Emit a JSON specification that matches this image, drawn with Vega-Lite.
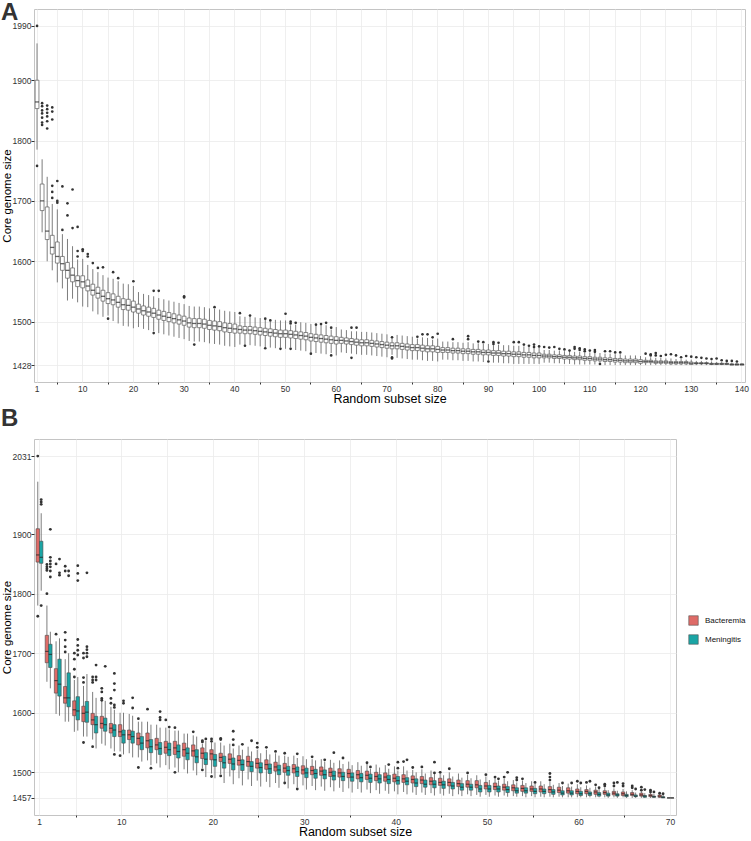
{
"$schema":"https://vega.github.io/schema/vega-lite/v6.json",
"background":"white",
"padding":0,
"spacing":0,
"config":{
 "font":"Liberation Sans",
 "view":{"stroke":"#c4c4c4","strokeWidth":1},
 "axis":{"domain":false,"gridColor":"#ebebeb","gridWidth":0.8,"tickColor":"#333","tickSize":3,"labelColor":"#333","labelFontSize":8.5,"titleFontSize":12.5,"titleFontWeight":"normal","titleColor":"#000"},
 "axisY":{"titleFontSize":11.5},
 "title":{"fontSize":24,"fontWeight":"bold","anchor":"start","frame":"bounds","color":"#333","offset":7}
},
"datasets":{
"boxA":[
{"n":1,"lo":1785,"q1":1853,"m":1864,"q3":1900,"hi":1961},
{"n":2,"lo":1648,"q1":1684,"m":1700,"q3":1728,"hi":1769},
{"n":3,"lo":1600,"q1":1636,"m":1650,"q3":1690,"hi":1740},
{"n":4,"lo":1585,"q1":1612,"m":1623,"q3":1643,"hi":1695},
{"n":5,"lo":1565,"q1":1597,"m":1608,"q3":1632,"hi":1686},
{"n":6,"lo":1555,"q1":1585,"m":1596,"q3":1608,"hi":1645},
{"n":7,"lo":1535,"q1":1572,"m":1585,"q3":1598,"hi":1637},
{"n":8,"lo":1538,"q1":1566,"m":1577,"q3":1589,"hi":1625},
{"n":9,"lo":1532,"q1":1558,"m":1568,"q3":1576,"hi":1603},
{"n":10,"lo":1525,"q1":1556,"m":1566,"q3":1576,"hi":1604},
{"n":11,"lo":1524,"q1":1551,"m":1559,"q3":1569,"hi":1594},
{"n":12,"lo":1517,"q1":1544,"m":1552,"q3":1562,"hi":1587},
{"n":13,"lo":1512,"q1":1539,"m":1547,"q3":1557,"hi":1582},
{"n":14,"lo":1508,"q1":1534,"m":1542,"q3":1552,"hi":1577},
{"n":15,"lo":1510,"q1":1530,"m":1538,"q3":1548,"hi":1573},
{"n":16,"lo":1501,"q1":1528,"m":1536,"q3":1546,"hi":1571},
{"n":17,"lo":1497,"q1":1524,"m":1532,"q3":1542,"hi":1567},
{"n":18,"lo":1493,"q1":1520,"m":1528,"q3":1538,"hi":1563},
{"n":19,"lo":1492,"q1":1519,"m":1527,"q3":1537,"hi":1562},
{"n":20,"lo":1489,"q1":1516,"m":1524,"q3":1534,"hi":1559},
{"n":21,"lo":1491,"q1":1514,"m":1521,"q3":1529,"hi":1549},
{"n":22,"lo":1488,"q1":1511,"m":1518,"q3":1526,"hi":1546},
{"n":23,"lo":1486,"q1":1509,"m":1516,"q3":1524,"hi":1544},
{"n":24,"lo":1484,"q1":1507,"m":1514,"q3":1522,"hi":1542},
{"n":25,"lo":1481,"q1":1504,"m":1511,"q3":1519,"hi":1539},
{"n":26,"lo":1479,"q1":1502,"m":1509,"q3":1517,"hi":1537},
{"n":27,"lo":1477,"q1":1500,"m":1507,"q3":1515,"hi":1535},
{"n":28,"lo":1475,"q1":1498,"m":1505,"q3":1513,"hi":1533},
{"n":29,"lo":1473,"q1":1496,"m":1503,"q3":1511,"hi":1531},
{"n":30,"lo":1471,"q1":1494,"m":1501,"q3":1509,"hi":1529},
{"n":31,"lo":1468,"q1":1491,"m":1498,"q3":1506,"hi":1526},
{"n":32,"lo":1467,"q1":1490,"m":1497,"q3":1505,"hi":1525},
{"n":33,"lo":1467,"q1":1490,"m":1497,"q3":1505,"hi":1525},
{"n":34,"lo":1466,"q1":1489,"m":1496,"q3":1504,"hi":1524},
{"n":35,"lo":1464,"q1":1487,"m":1494,"q3":1502,"hi":1522},
{"n":36,"lo":1463,"q1":1486,"m":1493,"q3":1501,"hi":1521},
{"n":37,"lo":1462,"q1":1485,"m":1492,"q3":1500,"hi":1520},
{"n":38,"lo":1460,"q1":1483,"m":1490,"q3":1498,"hi":1518},
{"n":39,"lo":1459,"q1":1482,"m":1489,"q3":1497,"hi":1517},
{"n":40,"lo":1458,"q1":1481,"m":1488,"q3":1496,"hi":1516},
{"n":41,"lo":1462,"q1":1481,"m":1487,"q3":1493,"hi":1509},
{"n":42,"lo":1461,"q1":1480,"m":1486,"q3":1492,"hi":1508},
{"n":43,"lo":1461,"q1":1480,"m":1486,"q3":1492,"hi":1508},
{"n":44,"lo":1460,"q1":1479,"m":1485,"q3":1491,"hi":1507},
{"n":45,"lo":1459,"q1":1478,"m":1484,"q3":1490,"hi":1506},
{"n":46,"lo":1458,"q1":1477,"m":1483,"q3":1489,"hi":1504},
{"n":47,"lo":1457,"q1":1476,"m":1482,"q3":1488,"hi":1500},
{"n":48,"lo":1456,"q1":1475,"m":1481,"q3":1487,"hi":1503},
{"n":49,"lo":1457,"q1":1474,"m":1480,"q3":1486,"hi":1502},
{"n":50,"lo":1455,"q1":1474,"m":1480,"q3":1486,"hi":1502},
{"n":51,"lo":1457,"q1":1473,"m":1479,"q3":1485,"hi":1494},
{"n":52,"lo":1453,"q1":1472,"m":1478,"q3":1484,"hi":1495},
{"n":53,"lo":1452,"q1":1471,"m":1477,"q3":1483,"hi":1499},
{"n":54,"lo":1451,"q1":1470,"m":1476,"q3":1482,"hi":1498},
{"n":55,"lo":1449,"q1":1468,"m":1474,"q3":1480,"hi":1496},
{"n":56,"lo":1448,"q1":1467,"m":1473,"q3":1479,"hi":1493},
{"n":57,"lo":1447,"q1":1466,"m":1472,"q3":1478,"hi":1494},
{"n":58,"lo":1446,"q1":1465,"m":1471,"q3":1477,"hi":1494},
{"n":59,"lo":1448,"q1":1464,"m":1470,"q3":1476,"hi":1487},
{"n":60,"lo":1444,"q1":1463,"m":1469,"q3":1475,"hi":1491},
{"n":61,"lo":1449,"q1":1464,"m":1469,"q3":1474,"hi":1487},
{"n":62,"lo":1448,"q1":1463,"m":1468,"q3":1473,"hi":1486},
{"n":63,"lo":1447,"q1":1462,"m":1467,"q3":1472,"hi":1484},
{"n":64,"lo":1446,"q1":1461,"m":1466,"q3":1471,"hi":1484},
{"n":65,"lo":1445,"q1":1460,"m":1465,"q3":1470,"hi":1483},
{"n":66,"lo":1445,"q1":1460,"m":1465,"q3":1470,"hi":1483},
{"n":67,"lo":1444,"q1":1459,"m":1464,"q3":1469,"hi":1482},
{"n":68,"lo":1443,"q1":1458,"m":1463,"q3":1468,"hi":1481},
{"n":69,"lo":1442,"q1":1457,"m":1462,"q3":1467,"hi":1480},
{"n":70,"lo":1441,"q1":1456,"m":1461,"q3":1466,"hi":1479},
{"n":71,"lo":1445,"q1":1455,"m":1460,"q3":1465,"hi":1472},
{"n":72,"lo":1440,"q1":1455,"m":1460,"q3":1465,"hi":1478},
{"n":73,"lo":1439,"q1":1454,"m":1459,"q3":1464,"hi":1477},
{"n":74,"lo":1438,"q1":1453,"m":1458,"q3":1463,"hi":1476},
{"n":75,"lo":1437,"q1":1452,"m":1457,"q3":1462,"hi":1475},
{"n":76,"lo":1437,"q1":1452,"m":1457,"q3":1462,"hi":1472},
{"n":77,"lo":1436,"q1":1451,"m":1456,"q3":1461,"hi":1474},
{"n":78,"lo":1435,"q1":1450,"m":1455,"q3":1460,"hi":1473},
{"n":79,"lo":1435,"q1":1450,"m":1455,"q3":1460,"hi":1470},
{"n":80,"lo":1434,"q1":1449,"m":1454,"q3":1459,"hi":1472},
{"n":81,"lo":1437,"q1":1449,"m":1453,"q3":1457,"hi":1467},
{"n":82,"lo":1437,"q1":1449,"m":1453,"q3":1457,"hi":1467},
{"n":83,"lo":1436,"q1":1448,"m":1452,"q3":1456,"hi":1466},
{"n":84,"lo":1436,"q1":1448,"m":1452,"q3":1456,"hi":1466},
{"n":85,"lo":1435,"q1":1447,"m":1451,"q3":1455,"hi":1465},
{"n":86,"lo":1435,"q1":1447,"m":1451,"q3":1455,"hi":1466},
{"n":87,"lo":1434,"q1":1446,"m":1450,"q3":1454,"hi":1464},
{"n":88,"lo":1434,"q1":1446,"m":1450,"q3":1454,"hi":1464},
{"n":89,"lo":1433,"q1":1445,"m":1449,"q3":1453,"hi":1463},
{"n":90,"lo":1436,"q1":1445,"m":1449,"q3":1453,"hi":1463},
{"n":91,"lo":1432,"q1":1444,"m":1448,"q3":1452,"hi":1461},
{"n":92,"lo":1432,"q1":1444,"m":1448,"q3":1452,"hi":1462},
{"n":93,"lo":1431,"q1":1443,"m":1447,"q3":1451,"hi":1461},
{"n":94,"lo":1431,"q1":1443,"m":1447,"q3":1451,"hi":1461},
{"n":95,"lo":1430,"q1":1442,"m":1446,"q3":1450,"hi":1460},
{"n":96,"lo":1430,"q1":1442,"m":1446,"q3":1450,"hi":1460},
{"n":97,"lo":1430,"q1":1441,"m":1445,"q3":1449,"hi":1459},
{"n":98,"lo":1430,"q1":1441,"m":1445,"q3":1449,"hi":1458},
{"n":99,"lo":1430,"q1":1440,"m":1444,"q3":1448,"hi":1457},
{"n":100,"lo":1430,"q1":1440,"m":1444,"q3":1448,"hi":1457},
{"n":101,"lo":1432,"q1":1440,"m":1443,"q3":1446,"hi":1453},
{"n":102,"lo":1432,"q1":1440,"m":1443,"q3":1446,"hi":1453},
{"n":103,"lo":1431,"q1":1439,"m":1442,"q3":1445,"hi":1452},
{"n":104,"lo":1431,"q1":1439,"m":1442,"q3":1445,"hi":1452},
{"n":105,"lo":1430,"q1":1438,"m":1441,"q3":1444,"hi":1451},
{"n":106,"lo":1430,"q1":1438,"m":1441,"q3":1444,"hi":1450},
{"n":107,"lo":1429,"q1":1437,"m":1440,"q3":1443,"hi":1450},
{"n":108,"lo":1429,"q1":1437,"m":1440,"q3":1443,"hi":1450},
{"n":109,"lo":1429,"q1":1436,"m":1439,"q3":1442,"hi":1449},
{"n":110,"lo":1429,"q1":1436,"m":1439,"q3":1442,"hi":1449},
{"n":111,"lo":1429,"q1":1435,"m":1438,"q3":1441,"hi":1448},
{"n":112,"lo":1433,"q1":1435,"m":1438,"q3":1441,"hi":1448},
{"n":113,"lo":1428,"q1":1434,"m":1437,"q3":1440,"hi":1447},
{"n":114,"lo":1428,"q1":1434,"m":1437,"q3":1440,"hi":1447},
{"n":115,"lo":1428,"q1":1433,"m":1436,"q3":1439,"hi":1446},
{"n":116,"lo":1428,"q1":1433,"m":1436,"q3":1439,"hi":1446},
{"n":117,"lo":1428,"q1":1432,"m":1435,"q3":1438,"hi":1444},
{"n":118,"lo":1428,"q1":1432,"m":1435,"q3":1438,"hi":1444},
{"n":119,"lo":1428,"q1":1432,"m":1435,"q3":1438,"hi":1444},
{"n":120,"lo":1428,"q1":1431,"m":1434,"q3":1437,"hi":1443},
{"n":121,"lo":1428,"q1":1432,"m":1434,"q3":1436,"hi":1441},
{"n":122,"lo":1428,"q1":1432,"m":1434,"q3":1436,"hi":1441},
{"n":123,"lo":1428,"q1":1431,"m":1433,"q3":1435,"hi":1440},
{"n":124,"lo":1428,"q1":1431,"m":1433,"q3":1435,"hi":1440},
{"n":125,"lo":1428,"q1":1431,"m":1433,"q3":1435,"hi":1439},
{"n":126,"lo":1428,"q1":1430,"m":1432,"q3":1434,"hi":1439},
{"n":127,"lo":1428,"q1":1430,"m":1432,"q3":1434,"hi":1438},
{"n":128,"lo":1428,"q1":1430,"m":1432,"q3":1434,"hi":1438},
{"n":129,"lo":1428,"q1":1430,"m":1432,"q3":1434,"hi":1437},
{"n":130,"lo":1428,"q1":1429,"m":1431,"q3":1433,"hi":1437},
{"n":131,"lo":1428,"q1":1430,"m":1431,"q3":1432,"hi":1435},
{"n":132,"lo":1428,"q1":1430,"m":1431,"q3":1432,"hi":1435},
{"n":133,"lo":1428,"q1":1430,"m":1431,"q3":1432,"hi":1434},
{"n":134,"lo":1428,"q1":1429,"m":1430,"q3":1431,"hi":1434},
{"n":135,"lo":1428,"q1":1429,"m":1430,"q3":1431,"hi":1433},
{"n":136,"lo":1428,"q1":1429,"m":1430,"q3":1431,"hi":1433},
{"n":137,"lo":1428,"q1":1429,"m":1430,"q3":1431,"hi":1433},
{"n":138,"lo":1428,"q1":1428,"m":1429,"q3":1430,"hi":1432},
{"n":139,"lo":1428,"q1":1428,"m":1429,"q3":1430,"hi":1432},
{"n":140,"lo":1428,"q1":1428,"m":1429,"q3":1430,"hi":1431}
],
"outA":[
{"n":1,"v":1990},{"n":1,"v":1758},
{"n":2,"v":1862},{"n":2,"v":1857},{"n":2,"v":1850},{"n":2,"v":1845},{"n":2,"v":1838},{"n":2,"v":1830},{"n":2,"v":1826},
{"n":3,"v":1858},{"n":3,"v":1852},{"n":3,"v":1846},{"n":3,"v":1840},{"n":3,"v":1832},{"n":3,"v":1820},
{"n":4,"v":1855},{"n":4,"v":1848},{"n":4,"v":1835},{"n":4,"v":1725},{"n":4,"v":1715},{"n":4,"v":1705},
{"n":5,"v":1733},{"n":5,"v":1700},{"n":5,"v":1697},
{"n":6,"v":1724},{"n":6,"v":1652},
{"n":7,"v":1696},{"n":7,"v":1676},
{"n":8,"v":1719},{"n":8,"v":1655},
{"n":9,"v":1657},{"n":9,"v":1617},{"n":9,"v":1608},
{"n":10,"v":1620},{"n":10,"v":1617},
{"n":11,"v":1612},{"n":11,"v":1608},
{"n":12,"v":1597},{"n":13,"v":1589},{"n":14,"v":1590},{"n":15,"v":1505},{"n":16,"v":1582},{"n":17,"v":1572},{"n":20,"v":1567},
{"n":24,"v":1551},{"n":24,"v":1481},{"n":25,"v":1551},{"n":30,"v":1542},{"n":30,"v":1540},{"n":32,"v":1462},{"n":36,"v":1524},
{"n":41,"v":1514},{"n":42,"v":1460},{"n":43,"v":1510},{"n":46,"v":1505},{"n":46,"v":1456},{"n":47,"v":1502},{"n":49,"v":1455},
{"n":50,"v":1513},{"n":51,"v":1500},{"n":51,"v":1497},{"n":51,"v":1455},{"n":52,"v":1498},{"n":55,"v":1447},{"n":56,"v":1495},
{"n":57,"v":1496},{"n":58,"v":1498},{"n":59,"v":1490},{"n":59,"v":1444},{"n":63,"v":1490},{"n":63,"v":1440},{"n":64,"v":1490},
{"n":71,"v":1474},{"n":71,"v":1441},{"n":71,"v":1439},{"n":76,"v":1475},{"n":77,"v":1479},{"n":78,"v":1479},{"n":79,"v":1474},
{"n":80,"v":1480},{"n":83,"v":1471},{"n":86,"v":1476},{"n":86,"v":1471},{"n":88,"v":1467},{"n":89,"v":1466},{"n":90,"v":1434},
{"n":91,"v":1466},{"n":91,"v":1463},{"n":92,"v":1465},{"n":95,"v":1466},{"n":96,"v":1466},{"n":97,"v":1462},{"n":98,"v":1460},
{"n":99,"v":1462},{"n":99,"v":1458},{"n":100,"v":1459},{"n":101,"v":1458},{"n":102,"v":1457},{"n":103,"v":1458},{"n":104,"v":1455},
{"n":105,"v":1454},{"n":106,"v":1452},{"n":107,"v":1458},{"n":107,"v":1455},{"n":108,"v":1456},{"n":108,"v":1453},{"n":109,"v":1454},
{"n":109,"v":1451},{"n":110,"v":1452},{"n":111,"v":1453},{"n":111,"v":1450},{"n":112,"v":1430},{"n":113,"v":1451},{"n":114,"v":1451},
{"n":115,"v":1449},{"n":116,"v":1449},{"n":121,"v":1447},{"n":122,"v":1446},{"n":122,"v":1444},{"n":123,"v":1448},{"n":123,"v":1444},
{"n":124,"v":1443},{"n":125,"v":1445},{"n":126,"v":1446},{"n":127,"v":1444},{"n":128,"v":1441},{"n":129,"v":1443},{"n":130,"v":1442},
{"n":131,"v":1441},{"n":132,"v":1440},{"n":133,"v":1439},{"n":134,"v":1438},{"n":135,"v":1439},{"n":136,"v":1436},{"n":137,"v":1435},
{"n":138,"v":1435},{"n":139,"v":1434}
],
"boxB":[
{"n":1,"g":"Bacteremia","lo":1780,"q1":1853,"m":1865,"q3":1909,"hi":1988},
{"n":2,"g":"Bacteremia","lo":1652,"q1":1684,"m":1703,"q3":1730,"hi":1780},
{"n":3,"g":"Bacteremia","lo":1598,"q1":1633,"m":1654,"q3":1674,"hi":1720},
{"n":4,"g":"Bacteremia","lo":1585,"q1":1616,"m":1625,"q3":1644,"hi":1690},
{"n":5,"g":"Bacteremia","lo":1568,"q1":1595,"m":1605,"q3":1620,"hi":1655},
{"n":6,"g":"Bacteremia","lo":1560,"q1":1585,"m":1599,"q3":1611,"hi":1645},
{"n":7,"g":"Bacteremia","lo":1555,"q1":1580,"m":1588,"q3":1599,"hi":1635},
{"n":8,"g":"Bacteremia","lo":1548,"q1":1574,"m":1582,"q3":1594,"hi":1620},
{"n":9,"g":"Bacteremia","lo":1540,"q1":1566,"m":1574,"q3":1582,"hi":1610},
{"n":10,"g":"Bacteremia","lo":1535,"q1":1560,"m":1568,"q3":1580,"hi":1600},
{"n":11,"g":"Bacteremia","lo":1532,"q1":1555,"m":1563,"q3":1571,"hi":1598},
{"n":12,"g":"Bacteremia","lo":1525,"q1":1546,"m":1557,"q3":1566,"hi":1585},
{"n":13,"g":"Bacteremia","lo":1520,"q1":1541,"m":1553,"q3":1566,"hi":1585},
{"n":14,"g":"Bacteremia","lo":1515,"q1":1538,"m":1546,"q3":1557,"hi":1580},
{"n":15,"g":"Bacteremia","lo":1512,"q1":1532,"m":1542,"q3":1552,"hi":1575},
{"n":16,"g":"Bacteremia","lo":1508,"q1":1530,"m":1541,"q3":1552,"hi":1570},
{"n":17,"g":"Bacteremia","lo":1505,"q1":1527,"m":1538,"q3":1549,"hi":1565},
{"n":18,"g":"Bacteremia","lo":1503,"q1":1527,"m":1536,"q3":1546,"hi":1562},
{"n":19,"g":"Bacteremia","lo":1507,"q1":1523,"m":1532,"q3":1541,"hi":1548},
{"n":20,"g":"Bacteremia","lo":1498,"q1":1521,"m":1531,"q3":1538,"hi":1550},
{"n":21,"g":"Bacteremia","lo":1497,"q1":1518,"m":1525,"q3":1532,"hi":1550},
{"n":22,"g":"Bacteremia","lo":1493,"q1":1515,"m":1522,"q3":1531,"hi":1548},
{"n":23,"g":"Bacteremia","lo":1490,"q1":1512,"m":1520,"q3":1528,"hi":1545},
{"n":24,"g":"Bacteremia","lo":1488,"q1":1510,"m":1518,"q3":1527,"hi":1543},
{"n":25,"g":"Bacteremia","lo":1486,"q1":1507,"m":1515,"q3":1523,"hi":1538},
{"n":26,"g":"Bacteremia","lo":1484,"q1":1505,"m":1513,"q3":1521,"hi":1538},
{"n":27,"g":"Bacteremia","lo":1482,"q1":1502,"m":1509,"q3":1517,"hi":1532},
{"n":28,"g":"Bacteremia","lo":1484,"q1":1500,"m":1507,"q3":1515,"hi":1528},
{"n":29,"g":"Bacteremia","lo":1480,"q1":1499,"m":1506,"q3":1513,"hi":1528},
{"n":30,"g":"Bacteremia","lo":1478,"q1":1497,"m":1504,"q3":1511,"hi":1527},
{"n":31,"g":"Bacteremia","lo":1477,"q1":1496,"m":1503,"q3":1510,"hi":1522},
{"n":32,"g":"Bacteremia","lo":1476,"q1":1495,"m":1502,"q3":1509,"hi":1522},
{"n":33,"g":"Bacteremia","lo":1475,"q1":1493,"m":1500,"q3":1507,"hi":1521},
{"n":34,"g":"Bacteremia","lo":1474,"q1":1492,"m":1499,"q3":1506,"hi":1520},
{"n":35,"g":"Bacteremia","lo":1473,"q1":1491,"m":1498,"q3":1505,"hi":1518},
{"n":36,"g":"Bacteremia","lo":1472,"q1":1489,"m":1496,"q3":1503,"hi":1517},
{"n":37,"g":"Bacteremia","lo":1471,"q1":1488,"m":1495,"q3":1502,"hi":1514},
{"n":38,"g":"Bacteremia","lo":1470,"q1":1486,"m":1493,"q3":1500,"hi":1513},
{"n":39,"g":"Bacteremia","lo":1469,"q1":1485,"m":1492,"q3":1499,"hi":1512},
{"n":40,"g":"Bacteremia","lo":1468,"q1":1484,"m":1490,"q3":1497,"hi":1510},
{"n":41,"g":"Bacteremia","lo":1467,"q1":1483,"m":1489,"q3":1496,"hi":1510},
{"n":42,"g":"Bacteremia","lo":1466,"q1":1482,"m":1488,"q3":1494,"hi":1504},
{"n":43,"g":"Bacteremia","lo":1466,"q1":1481,"m":1487,"q3":1493,"hi":1505},
{"n":44,"g":"Bacteremia","lo":1465,"q1":1479,"m":1485,"q3":1491,"hi":1503},
{"n":45,"g":"Bacteremia","lo":1464,"q1":1478,"m":1483,"q3":1490,"hi":1498},
{"n":46,"g":"Bacteremia","lo":1464,"q1":1477,"m":1483,"q3":1489,"hi":1500},
{"n":47,"g":"Bacteremia","lo":1463,"q1":1476,"m":1481,"q3":1487,"hi":1498},
{"n":48,"g":"Bacteremia","lo":1463,"q1":1475,"m":1480,"q3":1486,"hi":1496},
{"n":49,"g":"Bacteremia","lo":1462,"q1":1474,"m":1479,"q3":1486,"hi":1495},
{"n":50,"g":"Bacteremia","lo":1462,"q1":1472,"m":1477,"q3":1483,"hi":1493},
{"n":51,"g":"Bacteremia","lo":1461,"q1":1471,"m":1476,"q3":1482,"hi":1490},
{"n":52,"g":"Bacteremia","lo":1461,"q1":1470,"m":1475,"q3":1480,"hi":1489},
{"n":53,"g":"Bacteremia","lo":1460,"q1":1469,"m":1474,"q3":1479,"hi":1487},
{"n":54,"g":"Bacteremia","lo":1460,"q1":1468,"m":1473,"q3":1478,"hi":1486},
{"n":55,"g":"Bacteremia","lo":1460,"q1":1468,"m":1472,"q3":1477,"hi":1485},
{"n":56,"g":"Bacteremia","lo":1459,"q1":1467,"m":1472,"q3":1477,"hi":1485},
{"n":57,"g":"Bacteremia","lo":1459,"q1":1466,"m":1471,"q3":1476,"hi":1484},
{"n":58,"g":"Bacteremia","lo":1459,"q1":1466,"m":1470,"q3":1475,"hi":1482},
{"n":59,"g":"Bacteremia","lo":1458,"q1":1465,"m":1469,"q3":1474,"hi":1481},
{"n":60,"g":"Bacteremia","lo":1458,"q1":1464,"m":1468,"q3":1472,"hi":1480},
{"n":61,"g":"Bacteremia","lo":1458,"q1":1464,"m":1468,"q3":1471,"hi":1478},
{"n":62,"g":"Bacteremia","lo":1458,"q1":1463,"m":1467,"q3":1470,"hi":1476},
{"n":63,"g":"Bacteremia","lo":1458,"q1":1463,"m":1466,"q3":1469,"hi":1474},
{"n":64,"g":"Bacteremia","lo":1458,"q1":1462,"m":1465,"q3":1468,"hi":1473},
{"n":65,"g":"Bacteremia","lo":1458,"q1":1461,"m":1464,"q3":1467,"hi":1472},
{"n":66,"g":"Bacteremia","lo":1457,"q1":1461,"m":1463,"q3":1466,"hi":1470},
{"n":67,"g":"Bacteremia","lo":1457,"q1":1460,"m":1462,"q3":1465,"hi":1468},
{"n":68,"g":"Bacteremia","lo":1457,"q1":1459,"m":1461,"q3":1463,"hi":1466},
{"n":69,"g":"Bacteremia","lo":1457,"q1":1458,"m":1460,"q3":1462,"hi":1464},
{"n":70,"g":"Bacteremia","lo":1457,"q1":1457,"m":1457,"q3":1457,"hi":1457},
{"n":1,"g":"Meningitis","lo":1805,"q1":1851,"m":1861,"q3":1888,"hi":1935},
{"n":2,"g":"Meningitis","lo":1641,"q1":1676,"m":1698,"q3":1715,"hi":1736},
{"n":3,"g":"Meningitis","lo":1595,"q1":1628,"m":1648,"q3":1690,"hi":1725},
{"n":4,"g":"Meningitis","lo":1585,"q1":1610,"m":1625,"q3":1667,"hi":1700},
{"n":5,"g":"Meningitis","lo":1570,"q1":1588,"m":1603,"q3":1627,"hi":1660},
{"n":6,"g":"Meningitis","lo":1560,"q1":1584,"m":1601,"q3":1619,"hi":1665},
{"n":7,"g":"Meningitis","lo":1540,"q1":1566,"m":1580,"q3":1594,"hi":1625},
{"n":8,"g":"Meningitis","lo":1545,"q1":1569,"m":1580,"q3":1591,"hi":1620},
{"n":9,"g":"Meningitis","lo":1535,"q1":1560,"m":1571,"q3":1580,"hi":1605},
{"n":10,"g":"Meningitis","lo":1530,"q1":1549,"m":1563,"q3":1571,"hi":1600},
{"n":11,"g":"Meningitis","lo":1525,"q1":1549,"m":1560,"q3":1569,"hi":1595},
{"n":12,"g":"Meningitis","lo":1518,"q1":1538,"m":1549,"q3":1560,"hi":1585},
{"n":13,"g":"Meningitis","lo":1512,"q1":1533,"m":1543,"q3":1555,"hi":1580},
{"n":14,"g":"Meningitis","lo":1508,"q1":1530,"m":1540,"q3":1550,"hi":1575},
{"n":15,"g":"Meningitis","lo":1505,"q1":1528,"m":1538,"q3":1549,"hi":1572},
{"n":16,"g":"Meningitis","lo":1500,"q1":1524,"m":1535,"q3":1546,"hi":1570},
{"n":17,"g":"Meningitis","lo":1498,"q1":1521,"m":1532,"q3":1541,"hi":1565},
{"n":18,"g":"Meningitis","lo":1495,"q1":1516,"m":1526,"q3":1538,"hi":1560},
{"n":19,"g":"Meningitis","lo":1492,"q1":1513,"m":1522,"q3":1533,"hi":1553},
{"n":20,"g":"Meningitis","lo":1490,"q1":1510,"m":1521,"q3":1530,"hi":1550},
{"n":21,"g":"Meningitis","lo":1482,"q1":1507,"m":1516,"q3":1527,"hi":1545},
{"n":22,"g":"Meningitis","lo":1480,"q1":1504,"m":1514,"q3":1524,"hi":1540},
{"n":23,"g":"Meningitis","lo":1478,"q1":1503,"m":1513,"q3":1521,"hi":1538},
{"n":24,"g":"Meningitis","lo":1477,"q1":1501,"m":1510,"q3":1518,"hi":1535},
{"n":25,"g":"Meningitis","lo":1476,"q1":1499,"m":1508,"q3":1516,"hi":1532},
{"n":26,"g":"Meningitis","lo":1475,"q1":1498,"m":1506,"q3":1514,"hi":1530},
{"n":27,"g":"Meningitis","lo":1474,"q1":1496,"m":1504,"q3":1512,"hi":1528},
{"n":28,"g":"Meningitis","lo":1473,"q1":1495,"m":1503,"q3":1510,"hi":1526},
{"n":29,"g":"Meningitis","lo":1475,"q1":1493,"m":1501,"q3":1509,"hi":1524},
{"n":30,"g":"Meningitis","lo":1471,"q1":1491,"m":1499,"q3":1507,"hi":1522},
{"n":31,"g":"Meningitis","lo":1470,"q1":1490,"m":1498,"q3":1505,"hi":1520},
{"n":32,"g":"Meningitis","lo":1469,"q1":1489,"m":1496,"q3":1504,"hi":1518},
{"n":33,"g":"Meningitis","lo":1468,"q1":1487,"m":1494,"q3":1502,"hi":1516},
{"n":34,"g":"Meningitis","lo":1467,"q1":1486,"m":1493,"q3":1500,"hi":1514},
{"n":35,"g":"Meningitis","lo":1466,"q1":1485,"m":1492,"q3":1499,"hi":1512},
{"n":36,"g":"Meningitis","lo":1466,"q1":1484,"m":1491,"q3":1498,"hi":1511},
{"n":37,"g":"Meningitis","lo":1465,"q1":1483,"m":1490,"q3":1497,"hi":1506},
{"n":38,"g":"Meningitis","lo":1464,"q1":1482,"m":1489,"q3":1496,"hi":1508},
{"n":39,"g":"Meningitis","lo":1464,"q1":1481,"m":1488,"q3":1495,"hi":1506},
{"n":40,"g":"Meningitis","lo":1463,"q1":1480,"m":1486,"q3":1493,"hi":1503},
{"n":41,"g":"Meningitis","lo":1463,"q1":1479,"m":1485,"q3":1491,"hi":1503},
{"n":42,"g":"Meningitis","lo":1462,"q1":1476,"m":1482,"q3":1489,"hi":1500},
{"n":43,"g":"Meningitis","lo":1462,"q1":1475,"m":1480,"q3":1487,"hi":1498},
{"n":44,"g":"Meningitis","lo":1461,"q1":1474,"m":1480,"q3":1486,"hi":1497},
{"n":45,"g":"Meningitis","lo":1461,"q1":1473,"m":1479,"q3":1485,"hi":1495},
{"n":46,"g":"Meningitis","lo":1460,"q1":1472,"m":1477,"q3":1483,"hi":1493},
{"n":47,"g":"Meningitis","lo":1460,"q1":1470,"m":1475,"q3":1481,"hi":1491},
{"n":48,"g":"Meningitis","lo":1460,"q1":1470,"m":1475,"q3":1480,"hi":1490},
{"n":49,"g":"Meningitis","lo":1459,"q1":1467,"m":1472,"q3":1478,"hi":1488},
{"n":50,"g":"Meningitis","lo":1459,"q1":1467,"m":1472,"q3":1478,"hi":1487},
{"n":51,"g":"Meningitis","lo":1459,"q1":1467,"m":1472,"q3":1477,"hi":1486},
{"n":52,"g":"Meningitis","lo":1459,"q1":1466,"m":1471,"q3":1476,"hi":1485},
{"n":53,"g":"Meningitis","lo":1459,"q1":1465,"m":1469,"q3":1474,"hi":1483},
{"n":54,"g":"Meningitis","lo":1458,"q1":1465,"m":1469,"q3":1474,"hi":1482},
{"n":55,"g":"Meningitis","lo":1458,"q1":1464,"m":1468,"q3":1473,"hi":1481},
{"n":56,"g":"Meningitis","lo":1458,"q1":1464,"m":1468,"q3":1472,"hi":1480},
{"n":57,"g":"Meningitis","lo":1458,"q1":1463,"m":1467,"q3":1471,"hi":1479},
{"n":58,"g":"Meningitis","lo":1458,"q1":1462,"m":1465,"q3":1469,"hi":1477},
{"n":59,"g":"Meningitis","lo":1458,"q1":1462,"m":1465,"q3":1469,"hi":1476},
{"n":60,"g":"Meningitis","lo":1458,"q1":1461,"m":1464,"q3":1468,"hi":1475},
{"n":61,"g":"Meningitis","lo":1458,"q1":1461,"m":1464,"q3":1467,"hi":1474},
{"n":62,"g":"Meningitis","lo":1458,"q1":1460,"m":1463,"q3":1466,"hi":1472},
{"n":63,"g":"Meningitis","lo":1457,"q1":1460,"m":1462,"q3":1465,"hi":1470},
{"n":64,"g":"Meningitis","lo":1457,"q1":1460,"m":1462,"q3":1464,"hi":1469},
{"n":65,"g":"Meningitis","lo":1457,"q1":1459,"m":1461,"q3":1463,"hi":1468},
{"n":66,"g":"Meningitis","lo":1457,"q1":1459,"m":1460,"q3":1462,"hi":1466},
{"n":67,"g":"Meningitis","lo":1457,"q1":1458,"m":1460,"q3":1461,"hi":1465},
{"n":68,"g":"Meningitis","lo":1457,"q1":1458,"m":1459,"q3":1460,"hi":1464},
{"n":69,"g":"Meningitis","lo":1457,"q1":1457,"m":1458,"q3":1459,"hi":1462},
{"n":70,"g":"Meningitis","lo":1457,"q1":1457,"m":1457,"q3":1457,"hi":1457}
],
"outB":[
{"n":1,"g":"Bacteremia","v":2031},{"n":1,"g":"Bacteremia","v":1762},
{"n":1,"g":"Meningitis","v":1958},{"n":1,"g":"Meningitis","v":1954},{"n":1,"g":"Meningitis","v":1950},{"n":1,"g":"Meningitis","v":1780},
{"n":2,"g":"Bacteremia","v":1849},{"n":2,"g":"Bacteremia","v":1845},{"n":2,"g":"Bacteremia","v":1842},{"n":2,"g":"Bacteremia","v":1839},{"n":2,"g":"Bacteremia","v":1800},
{"n":2,"g":"Meningitis","v":1908},{"n":2,"g":"Meningitis","v":1861},{"n":2,"g":"Meningitis","v":1855},{"n":2,"g":"Meningitis","v":1850},{"n":2,"g":"Meningitis","v":1845},{"n":2,"g":"Meningitis","v":1838},{"n":2,"g":"Meningitis","v":1828},
{"n":3,"g":"Bacteremia","v":1850},{"n":3,"g":"Bacteremia","v":1732},
{"n":3,"g":"Meningitis","v":1858},{"n":3,"g":"Meningitis","v":1835},{"n":3,"g":"Meningitis","v":1831},
{"n":4,"g":"Bacteremia","v":1846},{"n":4,"g":"Bacteremia","v":1838},{"n":4,"g":"Bacteremia","v":1735},{"n":4,"g":"Bacteremia","v":1722},{"n":4,"g":"Bacteremia","v":1711},{"n":4,"g":"Bacteremia","v":1702},
{"n":4,"g":"Meningitis","v":1838},{"n":4,"g":"Meningitis","v":1830},
{"n":5,"g":"Bacteremia","v":1700},{"n":5,"g":"Bacteremia","v":1690},{"n":5,"g":"Bacteremia","v":1673},{"n":5,"g":"Bacteremia","v":1660},
{"n":5,"g":"Meningitis","v":1847},{"n":5,"g":"Meningitis","v":1834},{"n":5,"g":"Meningitis","v":1822},{"n":5,"g":"Meningitis","v":1723},{"n":5,"g":"Meningitis","v":1713},{"n":5,"g":"Meningitis","v":1705},{"n":5,"g":"Meningitis","v":1697},
{"n":6,"g":"Bacteremia","v":1700},{"n":6,"g":"Bacteremia","v":1692},{"n":6,"g":"Bacteremia","v":1659},{"n":6,"g":"Bacteremia","v":1651},{"n":6,"g":"Bacteremia","v":1550},
{"n":6,"g":"Meningitis","v":1835},{"n":6,"g":"Meningitis","v":1711},{"n":6,"g":"Meningitis","v":1706},{"n":6,"g":"Meningitis","v":1700},{"n":6,"g":"Meningitis","v":1694},
{"n":7,"g":"Bacteremia","v":1660},{"n":7,"g":"Bacteremia","v":1655},{"n":7,"g":"Bacteremia","v":1651},{"n":7,"g":"Bacteremia","v":1543},
{"n":7,"g":"Meningitis","v":1680},{"n":7,"g":"Meningitis","v":1660},{"n":7,"g":"Meningitis","v":1655},
{"n":8,"g":"Bacteremia","v":1641},{"n":8,"g":"Bacteremia","v":1635},{"n":8,"g":"Bacteremia","v":1624},{"n":8,"g":"Bacteremia","v":1621},
{"n":8,"g":"Meningitis","v":1678},
{"n":9,"g":"Bacteremia","v":1624},{"n":9,"g":"Bacteremia","v":1616},
{"n":9,"g":"Meningitis","v":1666},{"n":9,"g":"Meningitis","v":1649},{"n":9,"g":"Meningitis","v":1638},{"n":9,"g":"Meningitis","v":1613},{"n":9,"g":"Meningitis","v":1609},{"n":9,"g":"Meningitis","v":1530},
{"n":10,"g":"Bacteremia","v":1528},{"n":10,"g":"Meningitis","v":1620},{"n":10,"g":"Meningitis","v":1616},
{"n":11,"g":"Meningitis","v":1625},{"n":11,"g":"Meningitis","v":1608},
{"n":12,"g":"Bacteremia","v":1590},{"n":12,"g":"Bacteremia","v":1508},
{"n":13,"g":"Bacteremia","v":1606},{"n":13,"g":"Meningitis","v":1507},
{"n":14,"g":"Meningitis","v":1602},{"n":14,"g":"Meningitis","v":1592},{"n":14,"g":"Meningitis","v":1588},
{"n":15,"g":"Bacteremia","v":1588},{"n":15,"g":"Meningitis","v":1576},
{"n":16,"g":"Bacteremia","v":1575},{"n":16,"g":"Bacteremia","v":1500},
{"n":18,"g":"Bacteremia","v":1568},
{"n":19,"g":"Bacteremia","v":1553},{"n":19,"g":"Bacteremia","v":1551},{"n":19,"g":"Bacteremia","v":1504},{"n":19,"g":"Meningitis","v":1556},
{"n":20,"g":"Bacteremia","v":1556},{"n":20,"g":"Bacteremia","v":1552},{"n":20,"g":"Bacteremia","v":1493},
{"n":21,"g":"Bacteremia","v":1557},{"n":21,"g":"Bacteremia","v":1555},{"n":21,"g":"Bacteremia","v":1494},
{"n":22,"g":"Meningitis","v":1569},{"n":22,"g":"Meningitis","v":1555},{"n":22,"g":"Meningitis","v":1546},
{"n":23,"g":"Meningitis","v":1547},{"n":24,"g":"Meningitis","v":1553},
{"n":25,"g":"Bacteremia","v":1549},{"n":25,"g":"Bacteremia","v":1542},
{"n":26,"g":"Bacteremia","v":1542},{"n":27,"g":"Bacteremia","v":1535},
{"n":28,"g":"Bacteremia","v":1532},{"n":28,"g":"Bacteremia","v":1482},
{"n":29,"g":"Meningitis","v":1531},{"n":29,"g":"Meningitis","v":1472},
{"n":31,"g":"Bacteremia","v":1526},{"n":32,"g":"Meningitis","v":1521},{"n":33,"g":"Meningitis","v":1533},{"n":34,"g":"Meningitis","v":1524},
{"n":37,"g":"Bacteremia","v":1516},{"n":37,"g":"Meningitis","v":1509},{"n":39,"g":"Meningitis","v":1513},
{"n":40,"g":"Meningitis","v":1517},{"n":40,"g":"Meningitis","v":1507},
{"n":41,"g":"Bacteremia","v":1518},{"n":41,"g":"Meningitis","v":1521},
{"n":42,"g":"Bacteremia","v":1508},{"n":43,"g":"Bacteremia","v":1509},
{"n":44,"g":"Meningitis","v":1517},{"n":44,"g":"Meningitis","v":1499},
{"n":45,"g":"Bacteremia","v":1500},{"n":46,"g":"Bacteremia","v":1506},{"n":48,"g":"Bacteremia","v":1499},{"n":50,"g":"Bacteremia","v":1496},
{"n":51,"g":"Bacteremia","v":1492},{"n":51,"g":"Meningitis","v":1489},
{"n":52,"g":"Bacteremia","v":1492},{"n":52,"g":"Meningitis","v":1500},
{"n":53,"g":"Meningitis","v":1491},{"n":53,"g":"Meningitis","v":1487},
{"n":54,"g":"Bacteremia","v":1489},{"n":55,"g":"Meningitis","v":1483},
{"n":57,"g":"Bacteremia","v":1498},{"n":57,"g":"Bacteremia","v":1492},{"n":57,"g":"Bacteremia","v":1487},
{"n":58,"g":"Meningitis","v":1482},{"n":59,"g":"Meningitis","v":1482},
{"n":60,"g":"Bacteremia","v":1485},{"n":60,"g":"Meningitis","v":1482},
{"n":61,"g":"Bacteremia","v":1483},{"n":61,"g":"Meningitis","v":1485},
{"n":62,"g":"Bacteremia","v":1479},{"n":62,"g":"Meningitis","v":1474},
{"n":63,"g":"Bacteremia","v":1480},{"n":63,"g":"Bacteremia","v":1477},
{"n":64,"g":"Bacteremia","v":1482},{"n":64,"g":"Bacteremia","v":1477},{"n":64,"g":"Meningitis","v":1483},
{"n":65,"g":"Bacteremia","v":1481},{"n":65,"g":"Bacteremia","v":1477},
{"n":66,"g":"Bacteremia","v":1477},{"n":66,"g":"Bacteremia","v":1474},{"n":66,"g":"Meningitis","v":1472},
{"n":67,"g":"Bacteremia","v":1475},{"n":67,"g":"Bacteremia","v":1470},{"n":67,"g":"Meningitis","v":1471},
{"n":68,"g":"Bacteremia","v":1470},{"n":68,"g":"Bacteremia","v":1467},{"n":68,"g":"Meningitis","v":1467},
{"n":69,"g":"Bacteremia","v":1465},{"n":69,"g":"Meningitis","v":1464}
]
},
"vconcat":[
{
 "width":711,"height":373,
 "title":{"text":"A","dy":23},
 "encoding":{
  "x":{"field":"n","type":"ordinal","title":"Random subset size","scale":{"paddingInner":0,"paddingOuter":0.1},
   "axis":{"values":[1,5,10,15,20,25,30,35,40,45,50,55,60,65,70,75,80,85,90,95,100,105,110,115,120,125,130,135,140],
    "labelExpr":"datum.value == 1 || datum.value % 10 == 0 ? datum.label : ''","labelAngle":0,"labelOverlap":false,"grid":true,
    "tickSize":2,"labelPadding":0,"titlePadding":0,
    "tickColor":{"condition":{"test":"datum.value % 10 == 5","value":"#333"},"value":"transparent"}}}
 },
 "layer":[
  {"data":{"name":"boxA"},"mark":{"type":"rule","color":"#7d7d7d","strokeWidth":1},
   "encoding":{"y":{"field":"lo","type":"quantitative","title":"Core genome size","scale":{"domain":[1400,2018],"nice":false,"zero":false},
     "axis":{"values":[1428,1464,1500,1550,1600,1650,1700,1750,1800,1850,1900,1945,1990],"format":"d",
      "labelExpr":"indexof([1428,1500,1600,1700,1800,1900,1990], datum.value) >= 0 ? datum.label : ''",
      "tickColor":{"condition":{"test":"indexof([1428,1500,1600,1700,1800,1900,1990], datum.value) >= 0","value":"#333"},"value":"transparent"},
      "labelPadding":0,"titlePadding":0}},
    "y2":{"field":"hi"}}},
  {"data":{"name":"boxA"},"mark":{"type":"bar","fill":"white","stroke":"#5a5a5a","strokeWidth":0.7,"width":{"band":0.75}},
   "encoding":{"y":{"field":"q1","type":"quantitative","title":"Core genome size"},"y2":{"field":"q3"}}},
  {"data":{"name":"boxA"},"mark":{"type":"tick","color":"#222","thickness":1.3,"size":4},
   "encoding":{"y":{"field":"m","type":"quantitative","title":"Core genome size"}}},
  {"data":{"name":"outA"},"mark":{"type":"circle","color":"#333","size":7,"opacity":1},
   "encoding":{"y":{"field":"v","type":"quantitative","title":"Core genome size"}}}
 ]
},
{
 "width":642,"height":376,
 "title":{"text":"B","offset":8},
 "encoding":{
  "x":{"field":"n","type":"ordinal","title":"Random subset size","scale":{"paddingInner":0,"paddingOuter":0.1},
   "axis":{"values":[1,5,10,15,20,25,30,35,40,45,50,55,60,65,70],
    "labelExpr":"datum.value == 1 || datum.value % 10 == 0 ? datum.label : ''","labelAngle":0,"labelOverlap":false,"grid":true,
    "tickSize":2,"labelPadding":0,"titlePadding":0,
    "tickColor":{"condition":{"test":"datum.value % 10 == 5","value":"#333"},"value":"transparent"}}},
  "xOffset":{"field":"g","type":"nominal","scale":{"paddingInner":0,"paddingOuter":0.3333}}
 },
 "layer":[
  {"data":{"name":"boxB"},"mark":{"type":"rule","color":"#7d7d7d","strokeWidth":1},
   "encoding":{"y":{"field":"lo","type":"quantitative","title":"Core genome size","scale":{"domain":[1428.3,2059.7],"nice":false,"zero":false},
     "axis":{"values":[1457,1478.5,1500,1550,1600,1650,1700,1750,1800,1850,1900,1965.5,2031],"format":"d",
      "labelExpr":"indexof([1457,1500,1600,1700,1800,1900,2031], datum.value) >= 0 ? datum.label : ''",
      "tickColor":{"condition":{"test":"indexof([1457,1500,1600,1700,1800,1900,2031], datum.value) >= 0","value":"#333"},"value":"transparent"},
      "labelPadding":0,"titlePadding":0}},
    "y2":{"field":"hi"}}},
  {"data":{"name":"boxB"},"mark":{"type":"bar","stroke":"#4a4a4a","strokeWidth":0.6},
   "encoding":{"y":{"field":"q1","type":"quantitative","title":"Core genome size"},"y2":{"field":"q3"},
    "fill":{"field":"g","type":"nominal","scale":{"domain":["Bacteremia","Meningitis"],"range":["#de6b67","#1aa5a5"]},
     "legend":{"title":null,"orient":"none","legendX":654,"legendY":606,"symbolType":"square","symbolSize":90,"symbolStrokeColor":"#555","symbolStrokeWidth":0.6,"labelFontSize":8,"labelColor":"#111","rowPadding":6,"labelOffset":6}}}},
  {"data":{"name":"boxB"},"mark":{"type":"tick","color":"#222","thickness":1.2,"size":3.4},
   "encoding":{"y":{"field":"m","type":"quantitative","title":"Core genome size"}}},
  {"data":{"name":"outB"},"mark":{"type":"circle","color":"#333","size":8,"opacity":1},
   "encoding":{"y":{"field":"v","type":"quantitative","title":"Core genome size"}}}
 ]
}
]
}
